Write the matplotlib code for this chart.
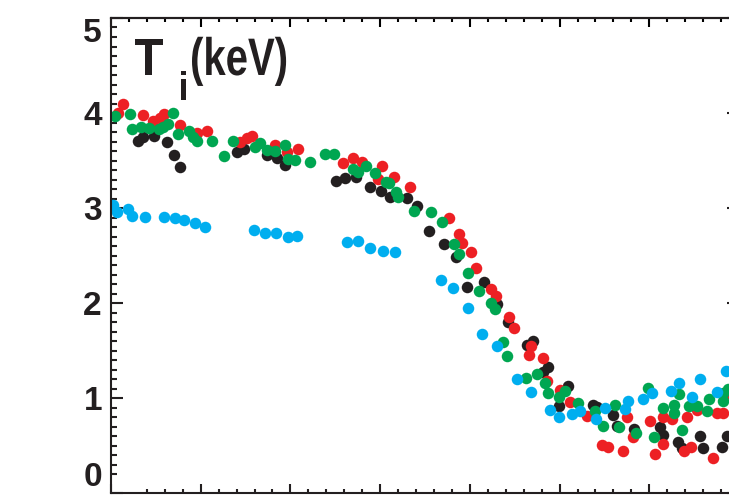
import numpy as np
import matplotlib
matplotlib.use("Agg")
import matplotlib.pyplot as plt
from matplotlib.patheffects import AbstractPathEffect
from matplotlib.transforms import Affine2D

# ---- data (x in arbitrary radial units, Ti in keV) ----
blue_x = [0.02, 0.07, 0.19, 0.23, 0.38, 0.59, 0.71, 0.81, 0.94, 1.05,
          1.59, 1.72, 1.84, 1.97, 2.07,
          2.63, 2.75, 2.89, 3.03, 3.17,
          3.68, 3.81, 3.98, 4.14, 4.30, 4.53, 4.68, 4.89, 4.99, 5.14, 5.23,
          5.41, 5.51, 5.73, 5.76, 5.93, 6.03, 6.24, 6.33, 6.48, 6.56, 6.76, 6.85]
blue_y = [3.03, 2.96, 2.99, 2.92, 2.91, 2.91, 2.89, 2.87, 2.84, 2.80,
          2.77, 2.74, 2.74, 2.69, 2.71,
          2.64, 2.65, 2.58, 2.55, 2.54,
          2.24, 2.16, 1.95, 1.67, 1.55, 1.20, 1.06, 0.87, 0.80, 0.83, 0.86,
          0.78, 0.89, 0.88, 0.97, 0.99, 1.05, 1.07, 1.16, 1.01, 1.20, 1.06, 1.28]

black_x = [0.30, 0.36, 0.48, 0.62, 0.70, 0.77,
           1.40, 1.48, 1.74, 1.85, 1.94,
           2.51, 2.61, 2.73, 2.89, 3.01, 3.11, 3.30, 3.41,
           3.55, 3.71, 3.85, 3.97, 4.16, 4.30, 4.43, 4.64, 4.70, 4.82, 4.87,
           4.99, 5.09, 5.37, 5.42, 5.60, 5.64, 5.83, 6.12, 6.15, 6.32, 6.37,
           6.56, 6.60, 6.81, 6.87]
black_y = [3.71, 3.75, 3.76, 3.69, 3.56, 3.43,
           3.59, 3.62, 3.56, 3.53, 3.45,
           3.28, 3.32, 3.33, 3.22, 3.18, 3.12, 3.11, 3.02,
           2.76, 2.62, 2.48, 2.17, 2.22, 1.99, 1.80, 1.56, 1.60, 1.27, 1.33,
           0.92, 1.13, 0.93, 0.91, 0.82, 0.71, 0.67, 0.69, 0.61, 0.54, 0.47,
           0.60, 0.47, 0.48, 0.60]

red_x = [0.08, 0.13, 0.36, 0.47, 0.55, 0.59, 0.77, 0.96, 1.07,
         1.44, 1.52, 1.57, 1.83, 1.96, 2.08,
         2.59, 2.70, 2.80, 3.02, 2.98, 3.16, 3.33,
         3.77, 3.88, 3.91, 4.01, 4.07, 4.24, 4.29, 4.44, 4.49, 4.68, 4.66,
         4.81, 4.86, 5.01, 5.12, 5.31, 5.47, 5.54, 5.71, 5.75, 5.82, 6.01,
         6.06, 6.15, 6.15, 6.25, 6.39, 6.42, 6.47, 6.53, 6.71, 6.76, 6.82, 6.85]
red_y = [4.00, 4.09, 3.98, 3.92, 3.95, 3.99, 3.87, 3.79, 3.81,
         3.69, 3.74, 3.76, 3.66, 3.59, 3.62,
         3.47, 3.53, 3.48, 3.44, 3.31, 3.33, 3.22,
         2.89, 2.73, 2.63, 2.54, 2.37, 2.15, 2.07, 1.85, 1.74, 1.55, 1.45,
         1.42, 1.18, 1.08, 0.96, 0.81, 0.51, 0.48, 0.44, 0.80, 0.59, 0.76,
         0.41, 0.52, 0.80, 0.78, 0.44, 0.80, 0.48, 0.87, 0.37, 0.84, 0.84, 1.04]

green_x = [0.04, 0.21, 0.23, 0.33, 0.42, 0.54, 0.58, 0.64, 0.69, 0.75,
           0.87, 0.91, 0.96, 1.13,
           1.26, 1.36, 1.61, 1.66, 1.74, 1.83, 1.94, 1.97, 2.05, 2.22,
           2.39, 2.49, 2.70, 2.75, 2.84, 2.94, 3.07, 3.10, 3.18, 3.20,
           3.38, 3.57, 3.69, 3.82, 3.88, 3.98, 4.10, 4.24, 4.28, 4.37, 4.41,
           4.63, 4.75, 4.84, 4.87, 4.99, 5.06, 5.20, 5.40, 5.48, 5.62, 5.66,
           5.85, 5.99, 6.05, 6.15, 6.27, 6.28, 6.33, 6.37, 6.44, 6.53, 6.64,
           6.67, 6.82, 6.82, 6.88]
green_y = [3.97, 3.99, 3.83, 3.85, 3.84, 3.83, 3.85, 3.88, 4.00, 3.78,
           3.81, 3.75, 3.71, 3.71,
           3.55, 3.71, 3.64, 3.68, 3.61, 3.60, 3.66, 3.52, 3.51, 3.48,
           3.57, 3.57, 3.41, 3.38, 3.44, 3.37, 3.27, 3.26, 3.17, 3.12,
           2.97, 2.96, 2.85, 2.62, 2.52, 2.32, 2.13, 2.00, 1.94, 1.59, 1.44,
           1.21, 1.25, 1.16, 1.05, 1.01, 1.07, 0.95, 0.86, 0.71, 0.93, 0.69,
           0.63, 1.11, 0.59, 0.89, 0.93, 0.84, 1.04, 0.66, 0.92, 0.92, 0.86,
           0.99, 0.97, 1.05, 1.09]

y_ticks = [0, 1, 2, 3, 4, 5]
y_ticklabels = ["0", "1", "2", "3", "4", "5"]
label_main = "T"
label_sub = "i"
label_unit = "(keV)"

# ---- colours ----
c_black = "#231f20"
c_red = "#ed2024"
c_green = "#00a651"
c_blue = "#00aeef"


class HScale(AbstractPathEffect):
    """Horizontally condense text glyphs around the text origin."""
    def __init__(self, sx):
        super().__init__()
        self.sx = sx

    def draw_path(self, renderer, gc, tpath, affine, rgbFace=None):
        m = affine.get_matrix().copy()
        m[0, :2] *= self.sx
        renderer.draw_path(gc, tpath, Affine2D(m), rgbFace)


W, H = 729, 495
fig = plt.figure(figsize=(W / 100, H / 100), dpi=100)
ax = fig.add_axes([111 / W, 2 / H, 628 / W, 475 / H])

ms = 8.3
for xs, ys, c in [(black_x, black_y, c_black), (red_x, red_y, c_red),
                  (green_x, green_y, c_green), (blue_x, blue_y, c_blue)]:
    ax.plot(xs, ys, "o", ms=ms, mew=0, color=c, linestyle="none")

ax.set_xlim(0, 7)
ax.set_ylim(0, 5)

# ticks
ax.set_xticks(np.arange(0, 8, 1))
xminor_bottom = [k / 5 for k in range(2, 35) if k % 5 != 0]
ax.set_xticks(xminor_bottom, minor=True)
ax.set_yticks(y_ticks)
ax.set_yticklabels(y_ticklabels)
yminor = [k / 10 for k in range(2, 50) if k % 10 != 0]
ax.set_yticks(yminor, minor=True)
ax.set_xticklabels([])

ax.tick_params(axis="x", which="major", direction="in", length=6.2, width=1.5,
               bottom=True, top=False, labelbottom=False)
ax.tick_params(axis="x", which="minor", direction="in", length=3.0, width=1.5,
               bottom=True, top=False)
ax.tick_params(axis="y", which="major", direction="in", length=8.6, width=1.5,
               left=True, right=True, pad=6.5)
ax.tick_params(axis="y", which="minor", direction="in", length=4.3, width=1.5,
               left=True, right=True)

sec = ax.secondary_xaxis("top")
sec.set_xticks(np.arange(0, 8, 1))
sec.set_xticks([k / 5 for k in range(1, 35) if k % 5 != 0], minor=True)
sec.tick_params(axis="x", which="major", direction="in", length=6.5, width=1.5,
                labeltop=False)
sec.tick_params(axis="x", which="minor", direction="in", length=3.2, width=1.5,
                labeltop=False)
for s in sec.spines.values():
    s.set_linewidth(1.5)
    s.set_color(c_black)

for s in ax.spines.values():
    s.set_linewidth(1.5)
    s.set_color(c_black)
ax.tick_params(colors=c_black, which="both")

for lab in ax.get_yticklabels():
    lab.set_fontfamily(["Liberation Sans", "DejaVu Sans"])
    lab.set_fontweight("bold")
    lab.set_fontsize(24)
    lab.set_color(c_black)
    if lab.get_text() == "0":
        lab.set_verticalalignment("bottom")
    elif lab.get_text() == "5":
        lab.set_verticalalignment("top")

fam = ["Liberation Sans", "DejaVu Sans"]
fig.text(134 / W, 1 - 75 / H, label_main, fontsize=38, fontweight="bold",
         family=fam, color=c_black, ha="left", va="baseline",
         path_effects=[HScale(0.92)])
fig.text(179 / W, 1 - 100 / H, label_sub, fontsize=29, fontweight="bold",
         family=fam, color=c_black, ha="left", va="baseline",
         path_effects=[HScale(0.85)])
fig.text(190 / W, 1 - 75 / H, label_unit, fontsize=38, fontweight="bold",
         family=fam, color=c_black, ha="left", va="baseline",
         path_effects=[HScale(0.76)])

fig.savefig("out.png", dpi=100)
